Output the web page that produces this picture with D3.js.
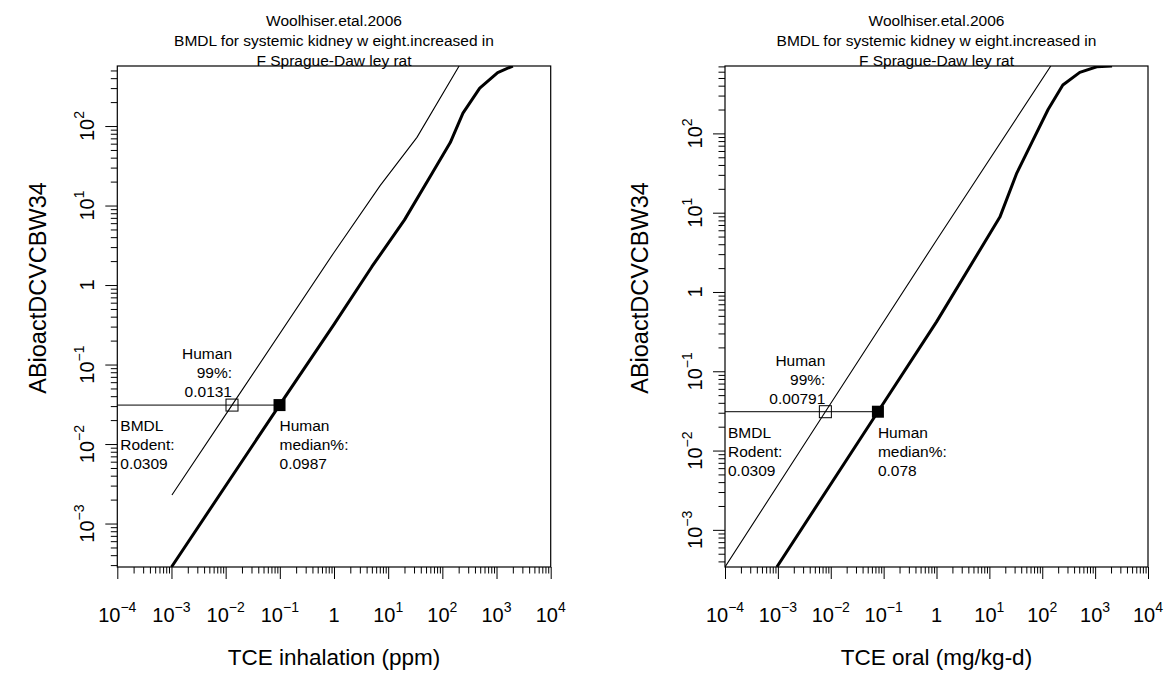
<!DOCTYPE html>
<html>
<head>
<meta charset="utf-8">
<style>
  body { margin: 0; background: #fff; font-family: "Liberation Sans", Arial, Helvetica, sans-serif; }
  svg text { fill: #000; }
</style>
</head>
<body>
<svg id="chart" width="1167" height="677"></svg>
<script src="https://d3js.org/d3.v7.min.js"></script>
<script>
// ---- text ----
let titleLines = ["Woolhiser.etal.2006", "BMDL for systemic kidney w eight.increased in", "F Sprague-Daw ley rat"]
let yTitle = "ABioactDCVCBW34"
let xTitles = ["TCE inhalation (ppm)", "TCE oral (mg/kg-d)"]
let xTickExps = [-4, -3, -2, -1, 0, 1, 2, 3, 4]
let yTickExps = [-3, -2, -1, 0, 1, 2]

// ---- values ----
let xDomain = [1e-4, 1e4]
let yDomains = [[0.000284, 569], [0.00034, 708]]

let bmdlRodent = 0.0309
let humanMedian = [0.0987, 0.078]
let human99 = [0.0131, 0.00791]

// inhalation panel
let inhalMedianDose   = [0.001, 0.0987, 1, 5, 20, 66, 140, 240, 490, 1050, 2000]
let inhalMedianMetric = [0.000284, 0.0309, 0.32, 1.7, 6.6, 26, 62, 145, 300, 470, 569]
let inhal99Dose   = [0.00102, 0.0131, 1, 7.1, 34, 204]
let inhal99Metric = [0.00229, 0.0309, 2.57, 17.8, 72, 569]

// oral panel
let oralMedianDose   = [0.000955, 0.078, 1, 15.8, 33, 63, 129, 245, 513, 1070, 2090]
let oralMedianMetric = [0.00034, 0.0309, 0.42, 8.8, 31.6, 76, 200, 407, 589, 692, 708]
let oral99Dose   = [0.0001, 0.00791, 1, 145]
let oral99Metric = [0.00034, 0.0309, 4.5, 708]

let panels = [
    {left: 117.3, right: 550.7, ylabX: 46, median: [inhalMedianDose, inhalMedianMetric], p99: [inhal99Dose, inhal99Metric]},
    {left: 725, right: 1148, ylabX: 648, median: [oralMedianDose, oralMedianMetric], p99: [oral99Dose, oral99Metric]}
]
let plotTop = 66, plotBottom = 567

let svg = d3.select("#chart")

function supLabel(sel, e) {
    if (e === 0) { sel.append("tspan").text("1"); return }
    sel.append("tspan").text("10")
    sel.append("tspan").attr("dy", -10).attr("font-size", 14).text(e < 0 ? "\u2212" + (-e) : e)
}

function minorTicks(domain) {
    let out = []
    for (let e = -6; e <= 5; e++) {
        for (let m = 2; m <= 9; m++) {
            let v = m * Math.pow(10, e)
            if (v >= domain[0] && v <= domain[1]) out.push(v)
        }
    }
    return out
}

function drawPanel(p, i) {
    let x = d3.scaleLog().domain(xDomain).range([p.left, p.right])
    let y = d3.scaleLog().domain(yDomains[i]).range([plotBottom, plotTop])
    let g = svg.append("g")
    let cx = (p.left + p.right) / 2

    // title
    g.append("g").selectAll("text")
        .data(titleLines)
        .enter().append("text")
        .attr("x", cx)
        .attr("y", (d, k) => 26 + k * 20)
        .attr("text-anchor", "middle")
        .attr("font-size", 15.5)
        .text(d => d)

    // axes ticks
    let majX = xTickExps.map(e => Math.pow(10, e))
    let majY = yTickExps.map(e => Math.pow(10, e))
    let xa = g.append("g").attr("transform", `translate(0,${plotBottom})`)
    xa.call(d3.axisBottom(x).tickValues(majX).tickSize(12).tickFormat(""))
    xa.append("g").call(d3.axisBottom(x).tickValues(minorTicks(xDomain)).tickSize(6.5).tickFormat(""))
    let ya = g.append("g").attr("transform", `translate(${p.left},0)`)
    ya.call(d3.axisLeft(y).tickValues(majY).tickSize(12).tickFormat(""))
    ya.append("g").call(d3.axisLeft(y).tickValues(minorTicks(yDomains[i])).tickSize(6.5).tickFormat(""))
    g.selectAll(".domain").remove()
    g.selectAll(".tick line").attr("stroke", "#000").attr("stroke-width", 1)

    // tick labels
    xTickExps.forEach(e => {
        let t = g.append("text")
            .attr("x", x(Math.pow(10, e)))
            .attr("y", 622)
            .attr("text-anchor", "middle")
            .attr("font-size", 20)
        supLabel(t, e)
    })
    yTickExps.forEach(e => {
        let yy = y(Math.pow(10, e))
        let t = g.append("text")
            .attr("transform", `translate(${p.left - 23},${yy}) rotate(-90)`)
            .attr("text-anchor", "middle")
            .attr("font-size", 20)
        supLabel(t, e)
    })

    // axis titles
    g.append("text")
        .attr("x", cx).attr("y", 665)
        .attr("text-anchor", "middle")
        .attr("font-size", 22.5)
        .text(xTitles[i])
    g.append("text")
        .attr("transform", `translate(${p.ylabX},288) rotate(-90)`)
        .attr("text-anchor", "middle")
        .attr("font-size", 23.5)
        .text(yTitle)

    // curves
    let clipId = "clip" + i
    g.append("clipPath").attr("id", clipId)
        .append("rect")
        .attr("x", p.left).attr("y", plotTop)
        .attr("width", p.right - p.left).attr("height", plotBottom - plotTop)
    let line = d3.line().x(d => x(d[0])).y(d => y(d[1]))
    let plot = g.append("g").attr("clip-path", `url(#${clipId})`)
    plot.append("path")
        .attr("d", line(d3.zip(p.p99[0], p.p99[1])))
        .attr("fill", "none").attr("stroke", "#000").attr("stroke-width", 1.1)
    plot.append("path")
        .attr("d", line(d3.zip(p.median[0], p.median[1])))
        .attr("fill", "none").attr("stroke", "#000").attr("stroke-width", 3)
        .attr("stroke-linejoin", "round")

    // BMDL line and points
    let by = y(bmdlRodent)
    g.append("line")
        .attr("x1", p.left).attr("x2", x(humanMedian[i]))
        .attr("y1", by).attr("y2", by)
        .attr("stroke", "#000").attr("stroke-width", 1)
    let s = 12
    g.append("rect")
        .attr("x", x(human99[i]) - s / 2).attr("y", by - s / 2)
        .attr("width", s).attr("height", s)
        .attr("fill", "none").attr("stroke", "#000").attr("stroke-width", 1)
    g.append("rect")
        .attr("x", x(humanMedian[i]) - s / 2).attr("y", by - s / 2)
        .attr("width", s).attr("height", s)
        .attr("fill", "#000")

    // annotations
    let ann = (lines, ax, dy0, anchor) => {
        g.append("g").selectAll("text")
            .data(lines)
            .enter().append("text")
            .attr("x", ax)
            .attr("y", (d, k) => by + dy0 + k * 19)
            .attr("text-anchor", anchor)
            .attr("font-size", 15.5)
            .text(d => d)
    }
    ann(["Human", "99%:", String(human99[i])], x(human99[i]), -46, "end")
    ann(["BMDL", "Rodent:", String(bmdlRodent)], p.left + 3, 26, "start")
    ann(["Human", "median%:", String(humanMedian[i])], x(humanMedian[i]), 26, "start")

    // box
    g.append("rect")
        .attr("x", p.left).attr("y", plotTop)
        .attr("width", p.right - p.left).attr("height", plotBottom - plotTop)
        .attr("fill", "none").attr("stroke", "#000").attr("stroke-width", 1.2)
}

panels.forEach(drawPanel)
</script>
</body>
</html>
